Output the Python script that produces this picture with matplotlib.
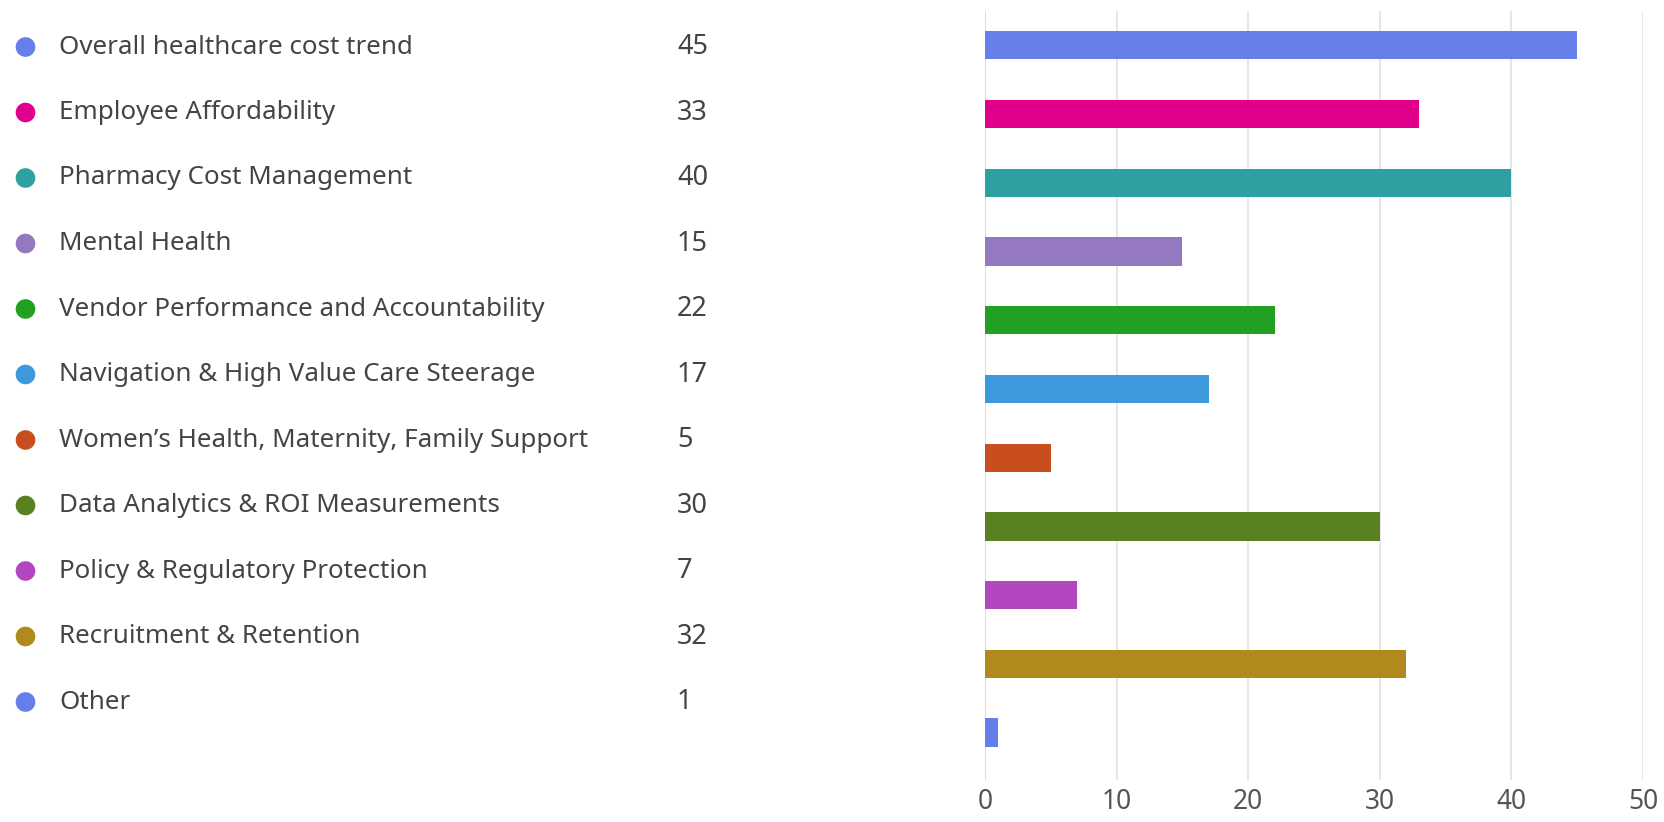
import matplotlib.pyplot as plt

categories = [
    "Overall healthcare cost trend",
    "Employee Affordability",
    "Pharmacy Cost Management",
    "Mental Health",
    "Vendor Performance and Accountability",
    "Navigation & High Value Care Steerage",
    "Women\u2019s Health, Maternity, Family Support",
    "Data Analytics & ROI Measurements",
    "Policy & Regulatory Protection",
    "Recruitment & Retention",
    "Other",
]
values = [45, 33, 40, 15, 22, 17, 5, 30, 7, 32, 1]
colors = [
    "#677fe9", "#e0008c", "#2fa0a2", "#9579c0", "#22a022", "#3d99dc",
    "#c84e1e", "#59811f", "#b347c0", "#b08a1c", "#667eea",
]
x_ticks = [0, 10, 20, 30, 40, 50]

W, H = 1664, 822
plt.rcParams["font.family"] = ["Noto Sans", "DejaVu Sans"]
fig = plt.figure(figsize=(W / 100, H / 100), dpi=100)

# bar chart on the right
ax = fig.add_axes([985 / W, 1 - 780 / H, (1643 - 985) / W, (780 - 11) / H])
ypos = list(range(len(values)))
ax.barh(ypos, values, height=0.41, color=colors, zorder=3)
ax.set_xlim(0, 50)
ax.set_ylim(10.69, -0.5)
ax.set_xticks(x_ticks)
ax.set_yticks([])
ax.grid(axis="x", color="#e1e1e1", linewidth=1.2, zorder=0)
ax.axvline(0, color="#c8c8c8", linewidth=1.2, zorder=1)
for s in ax.spines.values():
    s.set_visible(False)
ax.tick_params(axis="x", length=0, labelsize=19, labelcolor="#555555", pad=6)

# legend list on the left
lg = fig.add_axes([0, 0, 1, 1])
lg.set_xlim(0, W)
lg.set_ylim(H, 0)
lg.axis("off")
row_y = [47 + 65.5 * i for i in range(len(categories))]
lg.scatter([25.5] * len(categories), row_y, s=200, c=colors, linewidths=0)
for y, name, v in zip(row_y, categories, values):
    lg.text(59, y, name, fontsize=18.7, color="#444444", va="center", ha="left")
    lg.text(677, y, str(v), fontsize=19.5, color="#444444", va="center", ha="left")

fig.savefig("out.png", dpi=100)
